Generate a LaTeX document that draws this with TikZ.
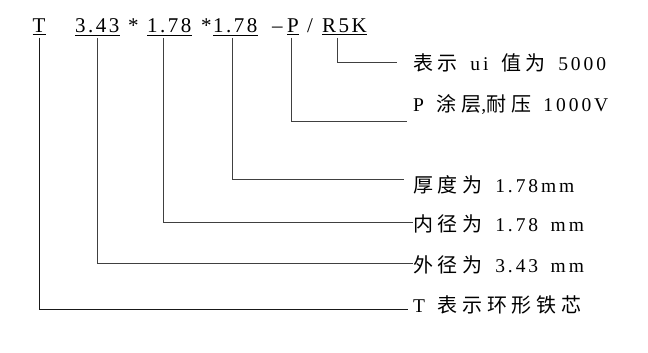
\documentclass[tikz,border=0pt]{standalone}
\usepackage{fontspec}
\setmainfont{Liberation Serif}
\newfontfamily\toprow[LetterSpace=12]{Liberation Serif}
\newfontfamily\lab[LetterSpace=15,WordSpace=1.6]{Liberation Serif}
\newfontfamily\cjk[LetterSpace=24]{Noto Sans CJK SC}
\newcommand\zh[1]{{\cjk\fontsize{20}{22}\selectfont #1}}

\begin{document}
\begin{tikzpicture}[x=1pt, y=-1pt,
    tok/.style={anchor=base west, inner xsep=0pt, inner ysep=1.5pt,
                font=\toprow\fontsize{21}{24}\selectfont},
    note/.style={anchor=west, inner sep=0pt,
                 font=\lab\fontsize{19.5}{22}\selectfont},
    lead/.style={black!75, line width=1pt}]

    \useasboundingbox (0,0) rectangle (648,353);

    % Ma hieu tren cung
    \node[tok] (tT)  at (32.5,33) {T};
    \node[tok] (tOD) at (75,33)   {3.43};
    \node[tok] (s1)  at (128,33)  {*};
    \node[tok] (tID) at (147,33)  {1.78};
    \node[tok] (s2)  at (201,33)  {*};
    \node[tok] (tH)  at (213,33)  {1.78};
    \node[tok] (dsh) at (272,33)  {–};
    \node[tok] (tP)  at (287,33)  {P};
    \node[tok] (sl)  at (307,33)  {/};
    \node[tok] (tR)  at (322,33)  {R5K};

    % Gach chan
    \foreach \n in {tT,tOD,tID,tH,tP,tR}
        \draw[black, line width=0.9pt] (\n.south west) -- (\n.south east);

    % Chu thich ben phai
    \node[note] (lR)  at (413,63)  {\zh{表示} ui \zh{值为} 5000};
    \node[note] (lP)  at (413,105) {P \zh{涂层},\zh{耐压} 1000V};
    \node[note] (lH)  at (413,185) {\zh{厚度为} 1.78mm};
    \node[note] (lID) at (413,224) {\zh{内径为} 1.78 mm};
    \node[note] (lOD) at (413,265) {\zh{外径为} 3.43 mm};
    \node[note] (lT)  at (413,305) {T \zh{表示环形铁芯}};

    % Diem cuoi cac duong dan
    \coordinate (eR)  at (397,63);
    \coordinate (eP)  at (407,121);
    \coordinate (eH)  at (404,179);
    \coordinate (eID) at (413,222);
    \coordinate (eOD) at (413,263);
    \coordinate (eT)  at (408,309);

    % Duong dan
    \draw[lead] ([xshift=-7pt,yshift=-3pt]tR.south) |- (eR);
    \draw[lead] ([xshift=-2pt,yshift=-3pt]tP.south) |- (eP);
    \draw[lead] ([xshift=-3pt,yshift=-3pt]tH.south) |- (eH);
    \draw[lead] ([xshift=-6pt,yshift=-3pt]tID.south) |- (eID);
    \draw[lead] ([yshift=-3pt]tOD.south) |- (eOD);
    \draw[lead, black!90] ([yshift=-3pt]tT.south) |- (eT);
\end{tikzpicture}
\end{document}
